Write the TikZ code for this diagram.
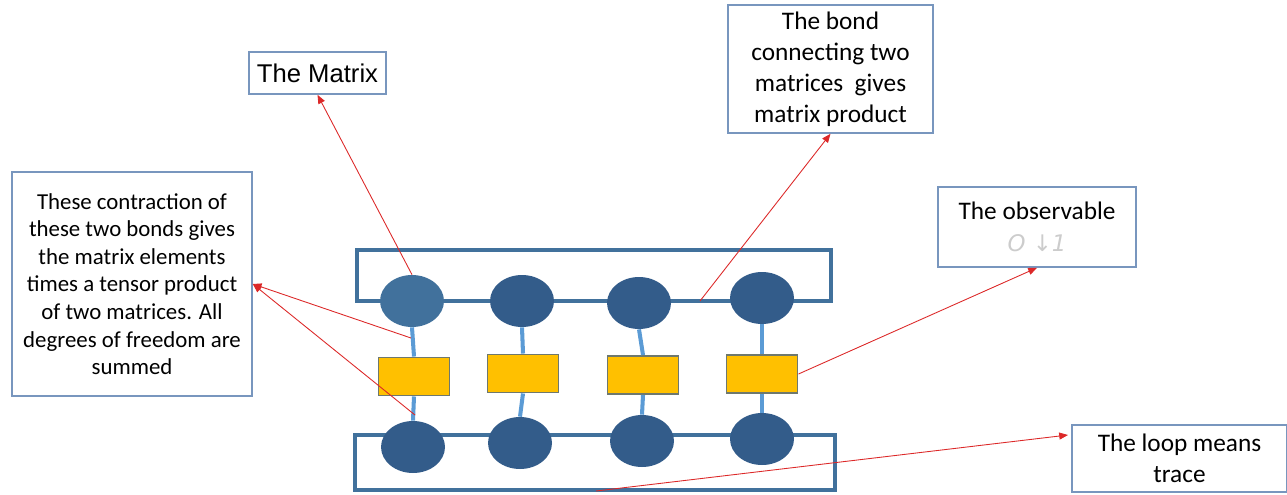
\documentclass[tikz,border=0pt]{standalone}
\usepackage{fontspec}
\setmainfont{Carlito}
\newfontfamily\arialfont{Liberation Sans}
\newfontfamily\dvfont{DejaVu Sans}
\usetikzlibrary{shapes.geometric,arrows.meta}
\definecolor{loopblue}{RGB}{65,113,156}
\definecolor{nodeblue}{RGB}{51,92,138}
\definecolor{bondblue}{RGB}{91,155,213}
\definecolor{opyellow}{RGB}{255,192,0}
\definecolor{opborder}{RGB}{110,120,110}
\definecolor{boxline}{RGB}{120,150,190}
\definecolor{annred}{RGB}{220,40,40}
\tikzset{
  px/.style={x=0.02cm,y=-0.02cm},
  loopline/.style={draw=loopblue,line width=2.3pt},
  tensor/.style={ellipse,fill=nodeblue,minimum width=1.28cm,minimum height=1.04cm,inner sep=0pt},
  operator/.style={rectangle,fill=opyellow,draw=opborder,line width=1.1pt,minimum width=1.42cm,minimum height=0.76cm,inner sep=0pt},
  bond/.style={draw=bondblue,line width=2.3pt},
  notebox/.style={rectangle,draw=boxline,line width=0.9pt,align=center,inner sep=0pt},
  annot/.style={draw=annred,line width=0.5pt,-{Triangle[length=5pt,width=4pt]}}
}
\begin{document}
\begin{tikzpicture}[px]
\useasboundingbox (0,0) rectangle (1287,494);
% trace loops
\draw[loopline] (357,250) rectangle (831,301);
\draw[loopline] (355,435) rectangle (835,490);
% tensors
\node[tensor,fill=loopblue] (t1) at (412,301) {};
\node[tensor] (t2) at (522,301) {};
\node[tensor] (t3) at (639,303) {};
\node[tensor] (t4) at (762,298) {};
\node[tensor] (b1) at (413,447) {};
\node[tensor] (b2) at (520,443) {};
\node[tensor] (b3) at (642,441) {};
\node[tensor] (b4) at (762,439) {};
% operators
\node[operator] (o1) at (414,376.5) {};
\node[operator] (o2) at (523,373.5) {};
\node[operator] (o3) at (643,375) {};
\node[operator] (o4) at (762,374) {};
% bonds
\draw[bond] (t1.south) -- (o1.north);
\draw[bond] (o1.south) -- (b1.north);
\draw[bond] (t2.south) -- (o2.north);
\draw[bond] (o2.south) -- (b2.north);
\draw[bond] (t3.south) -- (o3.north);
\draw[bond] (o3.south) -- (b3.north);
\draw[bond] (t4.south) -- (o4.north);
\draw[bond] (o4.south) -- (b4.north);
% note boxes
\node[notebox,minimum width=2.74cm,minimum height=0.84cm,font=\arialfont\fontsize{14.6}{17}\selectfont] (mat) at (317.5,73) {The Matrix};
\node[notebox,minimum width=4.1cm,minimum height=2.56cm,font=\fontsize{14.4}{17.6}\selectfont] (bondn) at (830.5,69) {\raisebox{-4pt}{\parbox{4cm}{\centering The bond\\connecting two\\matrices\ \ gives\\matrix product}}};
\node[notebox,minimum width=4.8cm,minimum height=4.48cm,font=\fontsize{13}{15.7}\selectfont] (contr) at (132,284) {These contraction of\\these two bonds gives\\the matrix elements\\times a tensor product\\of two matrices. All\\degrees of freedom are\\summed};
\node[notebox,minimum width=3.96cm,minimum height=1.6cm,font=\fontsize{14.4}{17.6}\selectfont] (obs) at (1037,227) {The observable\\[1pt]{\dvfont\itshape\fontsize{13}{15}\selectfont\color{black!20}O ↓1}};
\node[notebox,minimum width=4.3cm,minimum height=1.34cm,font=\fontsize{14.4}{17.6}\selectfont] (loopn) at (1179.5,458.5) {\raisebox{-3pt}{\parbox{4cm}{\centering The loop means\\trace}}};
% anchor coordinates on the diagram
\coordinate (bondpt) at (700,301);
\coordinate (up1) at (411,338);
\coordinate (lo1) at (415,415);
\coordinate (looppt) at (596,491);
\coordinate (looptip) at (1068,435);
% annotations
\draw[annot] (t1.north) -- (mat.south);
\draw[annot] (bondpt) -- (bondn.south);
\draw[annot] (o4.east) -- (obs.south);
\draw[annot] (up1) -- (contr.east);
\draw[annot] (lo1) -- (contr.east);
\draw[annot] (looppt) -- (looptip);
\end{tikzpicture}
\end{document}
